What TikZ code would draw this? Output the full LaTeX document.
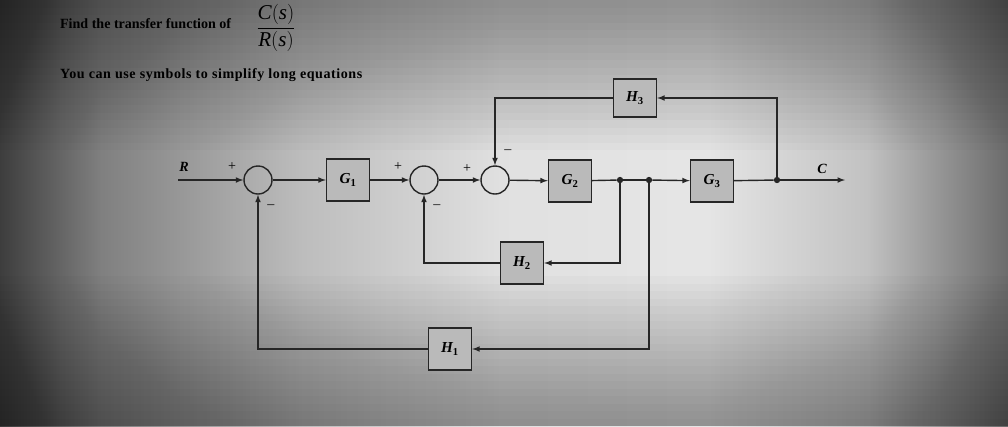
\documentclass[tikz,border=0pt]{standalone}
\usepackage{amsmath}
\usepackage{fontspec}
\setmainfont{Liberation Serif}
\usetikzlibrary{shapes.geometric, arrows, positioning, calc}

% screen glow behind the photographed page
\pgfdeclarehorizontalshading{screenglow}{100bp}{color(0bp)=(black!76); color(25bp)=(black!76); color(30bp)=(black!50); color(35bp)=(black!38); color(40bp)=(black!26); color(50bp)=(black!12); color(60bp)=(black!10); color(68bp)=(black!24); color(75bp)=(black!58); color(100bp)=(black!58)}

\begin{document}
\begin{tikzpicture}[
    x=0.3mm, y=-0.3mm,
    block/.style={rectangle, draw=black!85, line width=1.2pt, fill=black!27, minimum width=12.9mm, minimum height=12.6mm, font=\fontsize{13}{15}\selectfont\bfseries\itshape},
    sumnode/.style={circle, draw=black!85, line width=1.2pt, minimum size=8.4mm, inner sep=0pt},
    branch/.style={circle, fill=black!85, inner sep=0pt, minimum size=1.9mm},
    sign/.style={font=\fontsize{12}{14}\selectfont, inner sep=0pt},
    wire/.style={line width=1.2pt, draw=black!85, -latex},
    plainwire/.style={line width=1.2pt, draw=black!85}
]
    \useasboundingbox (0,0) rectangle (1008,426);

    % Background
    \shade[shading=screenglow] (0,0) rectangle (1008,426);
    \foreach \k in {1,...,20} {
        \fill[black, opacity=0.018] (0,0) rectangle (1008,7.5*\k);
        \fill[black, opacity=0.018] (0,426) rectangle (1008,426-7.5*\k);
    }

    % Question
    \node[anchor=west, font=\fontsize{12}{14}\selectfont\bfseries] (ask) at (56,24) {Find the transfer function of};
    \node (ratio) at (276,28) {\fontsize{18}{21}\selectfont $\dfrac{\textit{C}(\textit{s})}{\textit{R}(\textit{s})}$};
    \node[anchor=west, font=\fontsize{12}{14}\selectfont\bfseries\addfontfeature{LetterSpace=4}] (hint) at (56,75) {You can use symbols to simplify long equations};

    % Summing junctions
    \node[sumnode] (s1) at (258,180) {};
    \node[sumnode] (s2) at (424,180) {};
    \node[sumnode] (s3) at (495,180) {};

    % Blocks
    \node[block] (G1) at (348,180) {G\textsubscript{\upshape 1}};
    \node[block] (G2) at (570,181) {G\textsubscript{\upshape 2}};
    \node[block] (G3) at (712,181) {G\textsubscript{\upshape 3}};
    \node[block, minimum height=11.4mm] (H3) at (635,98) {H\textsubscript{\upshape 3}};
    \node[block] (H2) at (522,263) {H\textsubscript{\upshape 2}};
    \node[block] (H1) at (450,349) {H\textsubscript{\upshape 1}};

    % Branch points and ends
    \node[branch] (b1) at (620,180) {};
    \node[branch] (b2) at (649,180) {};
    \node[branch] (b3) at (777,180) {};
    \coordinate (in) at (178,180);
    \coordinate (out) at (845,180);

    % Signals
    \node[font=\fontsize{12}{14}\selectfont\bfseries\itshape] (Rlbl) at (184,167) {R};
    \node[font=\fontsize{12}{14}\selectfont\bfseries\itshape] (Clbl) at (822,169) {C};
    \node[sign] (p1) at (232,167) {+};
    \node[sign] (p2) at (398,167) {+};
    \node[sign] (p3) at (467,169) {+};
    \node[sign] (m1) at (271,207) {--};
    \node[sign] (m2) at (437,207) {--};
    \node[sign] (m3) at (508,152) {--};

    % Forward path
    \draw[wire] (in) -- (s1);
    \draw[wire] (s1) -- (G1);
    \draw[wire] (G1) -- (s2);
    \draw[wire] (s2) -- (s3);
    \draw[wire] (s3) -- (G2);
    \draw[plainwire] (G2) -- (b1);
    \draw[plainwire] (b1) -- (b2);
    \draw[wire] (b2) -- (G3);
    \draw[plainwire] (G3) -- (b3);
    \draw[wire] (b3) -- (out);

    % Feedback loops
    \draw[wire] (b3) |- (H3);
    \draw[wire] (H3) -| (s3);
    \draw[wire] (b1) |- (H2);
    \draw[wire] (H2) -| (s2);
    \draw[wire] (b2) |- (H1);
    \draw[wire] (H1) -| (s1);
\end{tikzpicture}
\end{document}
